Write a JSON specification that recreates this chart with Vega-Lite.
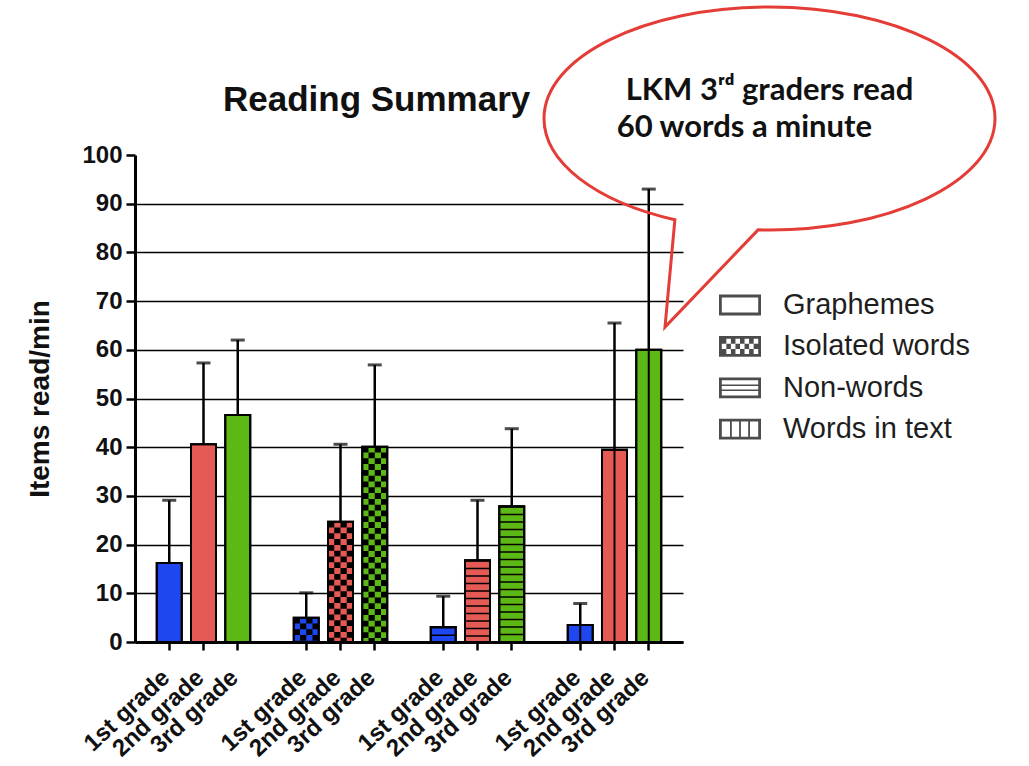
{
  "$schema": "https://vega.github.io/schema/vega-lite/v6.json",
  "width": 548,
  "height": 487,
  "autosize": {"type": "none"},
  "padding": {"left": 135, "top": 155, "right": 346, "bottom": 124},
  "background": "white",
  "title": {
    "text": "Reading Summary",
    "anchor": "start",
    "dx": 196,
    "offset": 0,
    "dy": 145,
    "baseline": "alphabetic",
    "fontSize": 35,
    "fontWeight": "bold",
    "font": "Liberation Sans",
    "color": "#111111"
  },
  "data": {
    "values": [
      {"bar": "G1", "test": "Graphemes", "grade": "1st grade", "mean": 16.2, "upper": 29.1},
      {"bar": "G2", "test": "Graphemes", "grade": "2nd grade", "mean": 40.6, "upper": 57.3},
      {"bar": "G3", "test": "Graphemes", "grade": "3rd grade", "mean": 46.6, "upper": 62.0},
      {"bar": "I1", "test": "Isolated words", "grade": "1st grade", "mean": 5.0, "upper": 10.1},
      {"bar": "I2", "test": "Isolated words", "grade": "2nd grade", "mean": 24.7, "upper": 40.6},
      {"bar": "I3", "test": "Isolated words", "grade": "3rd grade", "mean": 40.1, "upper": 56.9},
      {"bar": "N1", "test": "Non-words", "grade": "1st grade", "mean": 3.1, "upper": 9.4},
      {"bar": "N2", "test": "Non-words", "grade": "2nd grade", "mean": 16.8, "upper": 29.1},
      {"bar": "N3", "test": "Non-words", "grade": "3rd grade", "mean": 27.9, "upper": 43.8},
      {"bar": "W1", "test": "Words in text", "grade": "1st grade", "mean": 3.5, "upper": 7.9},
      {"bar": "W2", "test": "Words in text", "grade": "2nd grade", "mean": 39.5, "upper": 65.5},
      {"bar": "W3", "test": "Words in text", "grade": "3rd grade", "mean": 60.0, "upper": 93.0}
    ]
  },
  "encoding": {
    "x": {
      "field": "bar",
      "type": "nominal",
      "scale": {
        "domain": ["G1", "G2", "G3", "gap1", "I1", "I2", "I3", "gap2", "N1", "N2", "N3", "gap3", "W1", "W2", "W3"],
        "paddingInner": 0.27,
        "paddingOuter": 0.635
      },
      "axis": {
        "title": null,
        "values": ["G1", "G2", "G3", "I1", "I2", "I3", "N1", "N2", "N3", "W1", "W2", "W3"],
        "labelExpr": "slice(datum.value, 1) == '1' ? '1st grade' : slice(datum.value, 1) == '2' ? '2nd grade' : '3rd grade'",
        "labelAngle": -43,
        "labelAlign": "right",
        "labelBaseline": "middle",
        "labelFont": "Liberation Sans",
        "labelFontWeight": "bold",
        "labelFontSize": 24,
        "labelColor": "#111111",
        "labelPadding": 24,
        "labelOffset": -3,
        "domainColor": "black",
        "domainWidth": 3,
        "tickColor": "black",
        "tickWidth": 2.5,
        "tickSize": 8,
        "grid": false
      }
    },
    "y": {
      "field": "mean",
      "type": "quantitative",
      "scale": {"domain": [0, 100], "nice": false},
      "axis": {
        "title": "Items read/min",
        "titleFont": "Liberation Sans",
        "titleFontWeight": "bold",
        "titleFontSize": 28,
        "titleColor": "#111111",
        "titlePadding": 27,
        "values": [0, 10, 20, 30, 40, 50, 60, 70, 80, 90, 100],
        "labelFont": "Liberation Sans",
        "labelFontWeight": "bold",
        "labelFontSize": 24,
        "labelColor": "#111111",
        "labelPadding": 4,
        "domainColor": "black",
        "domainWidth": 3,
        "tickColor": "black",
        "tickWidth": 2.5,
        "tickSize": 9,
        "grid": true,
        "gridColor": "black",
        "gridWidth": 1.5,
        "gridOpacity": {"condition": {"test": "datum.value === 100", "value": 0}, "value": 1}
      }
    }
  },
  "layer": [
    {
      "mark": {"type": "bar", "stroke": "black", "strokeWidth": 2},
      "encoding": {
        "color": {
          "field": "grade",
          "type": "nominal",
          "scale": {"domain": ["1st grade", "2nd grade", "3rd grade"], "range": ["#1f47f0", "#e55a55", "#5cb814"]},
          "legend": null
        }
      }
    },
    {
      "transform": [{"filter": "datum.test == 'Non-words'"}],
      "mark": {"type": "rule", "color": "black", "strokeWidth": 24, "strokeDash": [1.5, 6]},
      "encoding": {"y2": {"datum": 0}}
    },
    {
      "transform": [{"filter": "datum.test == 'Words in text'"}],
      "mark": {"type": "rule", "color": "black", "strokeWidth": 2},
      "encoding": {"y2": {"datum": 0}}
    },
    {
      "transform": [{"filter": "datum.test == 'Isolated words'"}],
      "mark": {"type": "rule", "color": "black", "strokeWidth": 6.25, "strokeDash": [5.8, 5.8], "strokeDashOffset": 0, "xOffset": -9.375},
      "encoding": {"y2": {"datum": 0}}
    },
    {
      "transform": [{"filter": "datum.test == 'Isolated words'"}],
      "mark": {"type": "rule", "color": "black", "strokeWidth": 6.25, "strokeDash": [5.8, 5.8], "strokeDashOffset": 5.8, "xOffset": -3.125},
      "encoding": {"y2": {"datum": 0}}
    },
    {
      "transform": [{"filter": "datum.test == 'Isolated words'"}],
      "mark": {"type": "rule", "color": "black", "strokeWidth": 6.25, "strokeDash": [5.8, 5.8], "strokeDashOffset": 0, "xOffset": 3.125},
      "encoding": {"y2": {"datum": 0}}
    },
    {
      "transform": [{"filter": "datum.test == 'Isolated words'"}],
      "mark": {"type": "rule", "color": "black", "strokeWidth": 6.25, "strokeDash": [5.8, 5.8], "strokeDashOffset": 5.8, "xOffset": 9.375},
      "encoding": {"y2": {"datum": 0}}
    },
    {
      "mark": {"type": "bar", "fillOpacity": 0, "stroke": "black", "strokeWidth": 2}
    },
    {
      "mark": {"type": "rule", "color": "black", "strokeWidth": 2.5},
      "encoding": {"y2": {"field": "upper"}}
    },
    {
      "mark": {"type": "tick", "color": "black", "size": 14, "thickness": 3},
      "encoding": {"y": {"field": "upper", "type": "quantitative"}}
    },
    {
      "mark": {"type": "point", "filled": true, "color": "black", "size": 0, "strokeWidth": 0},
      "encoding": {
        "shape": {
          "field": "test",
          "type": "nominal",
          "scale": {
            "domain": ["Graphemes", "Isolated words", "Non-words", "Words in text"],
            "range": [
              "M-1.05,-0.52H1.05V0.52H-1.05ZM-0.91,-0.38V0.38H0.91V-0.38Z",
              "M-1.05,-0.52H1.05V0.52H-1.05ZM-0.91,-0.38V0.38H0.91V-0.38ZM-0.91,-0.38H-0.6825V-0.1267H-0.91ZM-0.455,-0.38H-0.2275V-0.1267H-0.455ZM0,-0.38H0.2275V-0.1267H0ZM0.455,-0.38H0.6825V-0.1267H0.455ZM-0.6825,-0.1267H-0.455V0.1267H-0.6825ZM-0.2275,-0.1267H0V0.1267H-0.2275ZM0.2275,-0.1267H0.455V0.1267H0.2275ZM0.6825,-0.1267H0.91V0.1267H0.6825ZM-0.91,0.1267H-0.6825V0.38H-0.91ZM-0.455,0.1267H-0.2275V0.38H-0.455ZM0,0.1267H0.2275V0.38H0ZM0.455,0.1267H0.6825V0.38H0.455Z",
              "M-1.05,-0.52H1.05V0.52H-1.05ZM-0.91,-0.38V0.38H0.91V-0.38ZM-0.91,-0.16H0.91V-0.09H-0.91ZM-0.91,0.09H0.91V0.16H-0.91Z",
              "M-1.05,-0.52H1.05V0.52H-1.05ZM-0.91,-0.38V0.38H0.91V-0.38ZM-0.5,-0.38H-0.41V0.38H-0.5ZM-0.045,-0.38H0.045V0.38H-0.045ZM0.41,-0.38H0.5V0.38H0.41Z"
            ]
          },
          "legend": {
            "title": null,
            "orient": "none",
            "legendX": 585,
            "legendY": 130,
            "padding": 0,
            "symbolSize": 1600,
            "symbolFillColor": "black",
            "symbolStrokeWidth": 0,
            "labelFont": "Liberation Sans",
            "labelFontSize": 29,
            "labelColor": "#1e1e1e",
            "labelOffset": 23,
            "labelLimit": 400,
            "rowPadding": 6.4
          }
        }
      }
    },
    {
      "transform": [{"filter": "datum.bar == 'W3'"}],
      "mark": {
        "type": "point",
        "filled": false,
        "color": "#e43c36",
        "strokeWidth": 3,
        "strokeJoin": "miter",
        "opacity": 1,
        "size": 40000,
        "shape": "M0.2615,-1.3008C-0.5367,-1.4832,-1.0475,-1.8783,-1.0475,-2.313C-1.0475,-2.9288,-0.0379,-3.428,1.2075,-3.428C2.4529,-3.428,3.4625,-2.9288,3.4625,-2.313C3.4625,-1.6751,2.3818,-1.1671,1.0934,-1.1994L0.1625,-0.228Z"
      }
    },
    {
      "transform": [{"filter": "datum.bar == 'W3'"}],
      "mark": {
        "type": "text",
        "text": "LKM 3ʳᵈ graders read",
        "align": "left",
        "baseline": "alphabetic",
        "dx": -23,
        "dy": -250,
        "font": "Lato",
        "fontWeight": "bold",
        "fontSize": 31,
        "color": "#111111"
      }
    },
    {
      "transform": [{"filter": "datum.bar == 'W3'"}],
      "mark": {
        "type": "text",
        "text": "60 words a minute",
        "align": "left",
        "baseline": "alphabetic",
        "dx": -32,
        "dy": -213,
        "font": "Lato",
        "fontWeight": "bold",
        "fontSize": 31,
        "color": "#111111"
      }
    }
  ],
  "config": {
    "view": {"stroke": null},
    "font": "Liberation Sans"
  }
}
